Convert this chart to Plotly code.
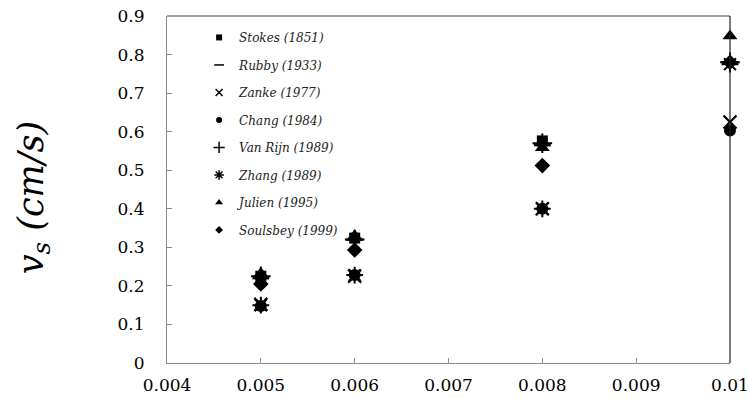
import plotly.graph_objects as go

# Particle diameter (x) and settling velocity (cm/s) from each formula
diameters = [0.005, 0.006, 0.008, 0.01]

stokes = [0.225, 0.324, 0.576, None]
rubby = [0.22, 0.32, 0.565, 0.78]
zanke = [0.152, 0.225, 0.40, 0.625]
chang = [0.148, 0.228, 0.40, 0.603]
van_rijn = [0.225, 0.32, 0.57, 0.78]
zhang = [0.15, 0.228, 0.40, 0.775]
julien = [0.232, 0.33, 0.558, 0.848]
soulsbey = [0.205, 0.293, 0.512, 0.78]

series_names = ["Stokes (1851)", "Rubby (1933)", "Zanke (1977)", "Chang (1984)",
                "Van Rijn (1989)", "Zhang (1989)", "Julien (1995)", "Soulsbey (1999)"]
series_values = [stokes, rubby, zanke, chang, van_rijn, zhang, julien, soulsbey]

x_tickvals = [0.004, 0.005, 0.006, 0.007, 0.008, 0.009, 0.01]
x_ticktext = ["0.004", "0.005", "0.006", "0.007", "0.008", "0.009", "0.01"]
y_tickvals = [0, 0.1, 0.2, 0.3, 0.4, 0.5, 0.6, 0.7, 0.8, 0.9]
y_ticktext = ["0", "0.1", "0.2", "0.3", "0.4", "0.5", "0.6", "0.7", "0.8", "0.9"]

# marker style per series: (symbol, size on plot, size in legend, line width)
styles = [
    ("square", 11, 6, 0),
    ("line-ew", 12, 7, 2.5),
    ("x-thin", 13, 7, 2.2),
    ("circle", 12, 6, 0),
    ("cross-thin", 14, 8, 2),
    ("asterisk", 14, 8, 2),
    ("triangle-up", 13, 7, 0),
    ("diamond", 12, 6, 0),
]

fig = go.Figure()

for name, vals, (sym, size, lsize, lw) in zip(series_names, series_values, styles):
    fig.add_trace(go.Scatter(
        x=diameters, y=vals, mode="markers", name=name, showlegend=False,
        marker=dict(symbol=sym, size=size, color="black",
                    line=dict(color="black", width=lw)),
        cliponaxis=False,
    ))

for i, (name, (sym, size, lsize, lw)) in enumerate(zip(series_names, styles)):
    fig.add_trace(go.Scatter(
        x=[None], y=[None], mode="markers", name="<i>" + name + "</i>",
        legendgroup=f"g{i}",
        marker=dict(symbol=sym, size=lsize, color="black",
                    line=dict(color="black", width=min(lw, 1.5))),
    ))

serif = "DejaVu Serif"

fig.update_layout(
    width=749, height=399,
    margin=dict(l=167, r=19, t=16, b=36, autoexpand=False),
    paper_bgcolor="white", plot_bgcolor="white",
    font=dict(family=serif, color="black"),
    legend=dict(
        x=0.057, y=0.98, xanchor="left", yanchor="top",
        bgcolor="rgba(0,0,0,0)",
        font=dict(family=serif, size=12, color="#222"),
        tracegroupgap=8.5,
        itemwidth=30,
    ),
    xaxis=dict(
        range=[0.004, 0.01], tickvals=x_tickvals, ticktext=x_ticktext,
        showgrid=False, zeroline=False, automargin=False,
        showline=True, linecolor="#8a8a8a", linewidth=1,
        ticks="inside", ticklen=5, tickcolor="#8a8a8a",
        tickfont=dict(family=serif, size=17, color="black"),
        ticklabelstandoff=7,
    ),
    yaxis=dict(
        range=[0, 0.9], tickvals=y_tickvals, ticktext=y_ticktext,
        showgrid=False, zeroline=False, automargin=False,
        showline=True, linecolor="#8a8a8a", linewidth=1,
        ticks="inside", ticklen=5, tickcolor="#8a8a8a",
        tickfont=dict(family=serif, size=17, color="black"),
        ticklabelstandoff=18,
    ),
    shapes=[
        dict(type="line", xref="paper", yref="paper", x0=0, x1=1, y0=1, y1=1,
             line=dict(color="#444", width=1.2)),
        dict(type="line", xref="paper", yref="paper", x0=1, x1=1, y0=0, y1=1,
             line=dict(color="#222", width=1.2)),
    ],
    annotations=[
        dict(text="<i>v<sub>s</sub> (cm/s)</i>", xref="paper", yref="paper",
             x=-0.238, y=0.475, xanchor="center", yanchor="middle",
             textangle=-90, showarrow=False,
             font=dict(family=serif, size=35, color="black")),
    ],
)

fig.write_html("out.html")
